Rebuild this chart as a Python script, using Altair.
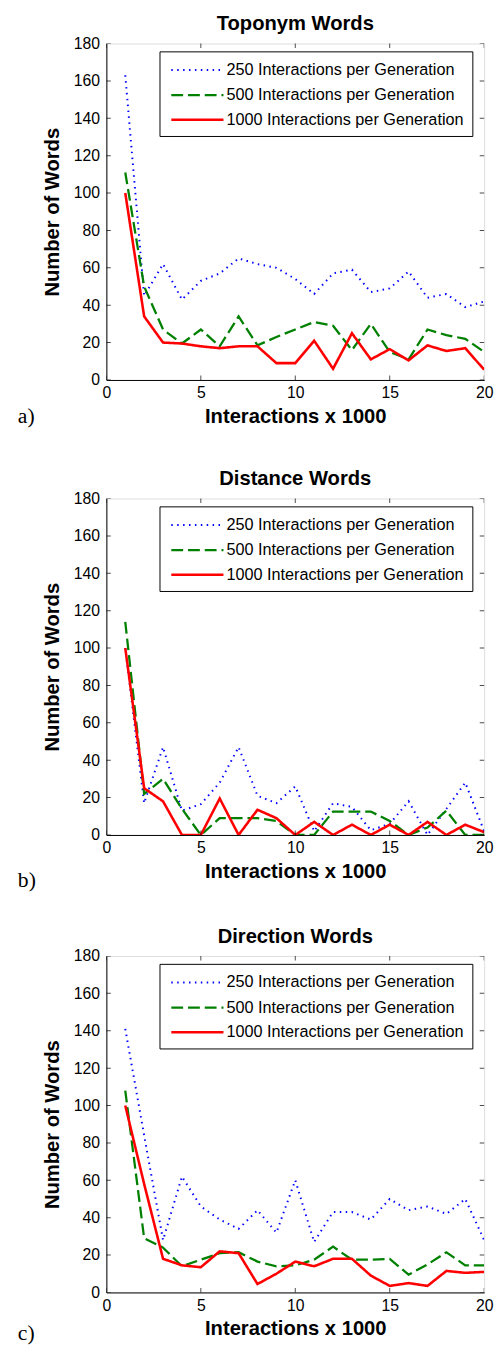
import altair as alt
import pandas as pd

# ---------------- data ----------------
interactions = list(range(1, 21))  # x 1000

series_names = [
    "250 Interactions per Generation",
    "500 Interactions per Generation",
    "1000 Interactions per Generation",
]
series_colors = ["#0000ff", "#008000", "#ff0000"]
series_dashes = [[1.5, 4.5], [12, 5], [1, 0]]
series_widths = [2, 2.6, 2.6]

panel_titles = ["Toponym Words", "Distance Words", "Direction Words"]
panel_tags = ["a)", "b)", "c)"]

x_ticks = [0, 5, 10, 15, 20]
y_ticks = [0, 20, 40, 60, 80, 100, 120, 140, 160, 180]

toponym_250 = [163, 45, 62, 43, 53, 57, 65, 62, 60, 54, 46, 57, 59, 47, 49, 58, 44, 46, 39, 42]
toponym_500 = [111, 50, 27, 19.5, 27, 18, 34, 18.5, 23, 27, 31, 29, 16, 30, 15, 11, 27, 24, 22, 15]
toponym_1000 = [100, 34, 20, 19.5, 18, 17, 18, 18, 9, 9, 21, 6, 25, 11, 16.5, 10.5, 18.5, 15.5, 17, 5.5]

distance_250 = [100, 17, 47, 13, 16.5, 28, 47, 21, 17, 26, 2, 17, 15, 2.5, 6, 18, 0, 14, 28, 2]
distance_500 = [114, 22, 30, 14, 0, 9, 9, 9, 7.5, 0, 0, 12.5, 12.5, 12.5, 7.5, 0, 4, 13, 0, 0]
distance_1000 = [100, 25, 18, 0, 0, 19.5, 0, 13.5, 9, 0, 7, 0, 5.5, 0, 5.5, 0, 7, 0, 5.5, 1.5]

direction_250 = [141, 84, 28, 62, 46, 39, 34, 44, 32, 60, 27, 43, 43, 39, 50, 44, 46, 42, 50, 28]
direction_500 = [108, 29, 24, 14, 17.5, 21, 21.5, 16.5, 14, 14.5, 17.5, 24.5, 17.5, 17.5, 18, 9.5, 15, 21.5, 14.5, 14.5]
direction_1000 = [100, 58, 18, 14.5, 13.5, 22, 21, 4.5, 10, 16.5, 14, 18, 18, 9, 3.5, 5, 3.5, 11.5, 10.5, 11]

panel_series = [
    (toponym_250, toponym_500, toponym_1000),
    (distance_250, distance_500, distance_1000),
    (direction_250, direction_500, direction_1000),
]

# ---------------- layout ----------------
W, H = 384, 342
FONT = "Liberation Sans"
tag_offsets = [44, 53, 48]  # baseline of the figure tag below plot bottom


def make_panel(i):
    vals = panel_series[i]
    rows = []
    for name, v in zip(series_names, vals):
        for xv, yv in zip(interactions, v):
            rows.append({"Interactions": xv, "Words": yv, "Series": name})
    df = pd.DataFrame(rows)

    xs = alt.Scale(domain=[0, 20], nice=False, zero=False)
    ys = alt.Scale(domain=[0, 180], nice=False)

    x_axis = alt.Axis(values=x_ticks, title="Interactions x 1000", format="d",
                      ticks=False, domain=True, domainColor="black", grid=False, labelFlush=False,
                      labelFont=FONT, labelFontSize=16, labelColor="black",
                      labelPadding=5, titleFont=FONT, titleFontSize=20.5,
                      titleFontWeight="bold", titleColor="black", titlePadding=6)
    y_axis = alt.Axis(values=y_ticks, title="Number of Words", format="d",
                      ticks=False, domain=True, domainColor="black", grid=False, labelFlush=False,
                      labelFont=FONT, labelFontSize=16, labelColor="black",
                      labelPadding=7, titleFont=FONT, titleFontSize=20.5,
                      titleFontWeight="bold", titleColor="black", titlePadding=11)

    legend = alt.Legend(
        title=None, orient="none", legendX=54, legendY=8,
        symbolType="M-2.65,0L2.65,0", symbolSize=400, symbolStrokeWidth=2,
        symbolOffset=19, labelOffset=18,
        labelFont=FONT, labelFontSize=16.5, labelColor="black", labelLimit=500,
        strokeColor="black", fillColor="white", padding=8, rowPadding=5,
    )

    enc = dict(
        x=alt.X("Interactions:Q", scale=xs, axis=x_axis),
        y=alt.Y("Words:Q", scale=ys, axis=y_axis),
        color=alt.Color("Series:N", scale=alt.Scale(domain=series_names, range=series_colors),
                        legend=legend),
        strokeDash=alt.StrokeDash("Series:N", scale=alt.Scale(domain=series_names, range=series_dashes),
                                  legend=legend),
        strokeWidth=alt.StrokeWidth("Series:N", scale=alt.Scale(domain=series_names, range=series_widths),
                                    legend=None),
    )

    line_layers = [
        alt.Chart(df).transform_filter(alt.datum.Series == name)
        .mark_line(clip=True).encode(**enc)
        for name in series_names
    ]

    xt = pd.DataFrame({"Interactions": x_ticks})
    yt = pd.DataFrame({"Words": y_ticks})
    tick_x = alt.X("Interactions:Q", scale=xs, axis=x_axis)
    tick_y = alt.Y("Words:Q", scale=ys, axis=y_axis)
    ticks = [
        alt.Chart(xt).mark_tick(orient="vertical", size=9, thickness=1, color="black", clip=True)
        .encode(x=tick_x, y=alt.value(H)),
        alt.Chart(xt).mark_tick(orient="vertical", size=9, thickness=1, color="black", clip=True)
        .encode(x=tick_x, y=alt.value(0)),
        alt.Chart(yt).mark_tick(orient="horizontal", size=9, thickness=1, color="black", clip=True)
        .encode(y=tick_y, x=alt.value(0)),
        alt.Chart(yt).mark_tick(orient="horizontal", size=9, thickness=1, color="black", clip=True)
        .encode(y=tick_y, x=alt.value(W)),
    ]

    tag = alt.Chart(pd.DataFrame({"tag": [panel_tags[i]]})).mark_text(
        font="Liberation Serif", fontSize=22, align="left", baseline="alphabetic", color="black"
    ).encode(text="tag:N", x=alt.value(-90), y=alt.value(H + tag_offsets[i]))

    return alt.layer(*line_layers, *ticks, tag).properties(
        width=W, height=H,
        title=alt.TitleParams(panel_titles[i], font=FONT, fontSize=20.5, fontWeight="bold",
                              color="black", anchor="middle", frame="group", offset=1),
    )


def indep(c):
    return c.resolve_scale(
        x="independent", y="independent", color="independent", strokeDash="independent",
        strokeWidth="independent",
    ).resolve_legend(color="independent", strokeDash="independent")


top_two = indep(alt.vconcat(make_panel(0), make_panel(1), spacing=41.5))
chart = indep(alt.vconcat(top_two, make_panel(2), spacing=35.5)).properties(
    padding={"left": 9, "top": -5, "right": 0, "bottom": 0}
).configure_view(stroke="black", strokeWidth=1).configure(background="white")

chart.save("out.html", embed_options={"renderer": "svg", "actions": False})
